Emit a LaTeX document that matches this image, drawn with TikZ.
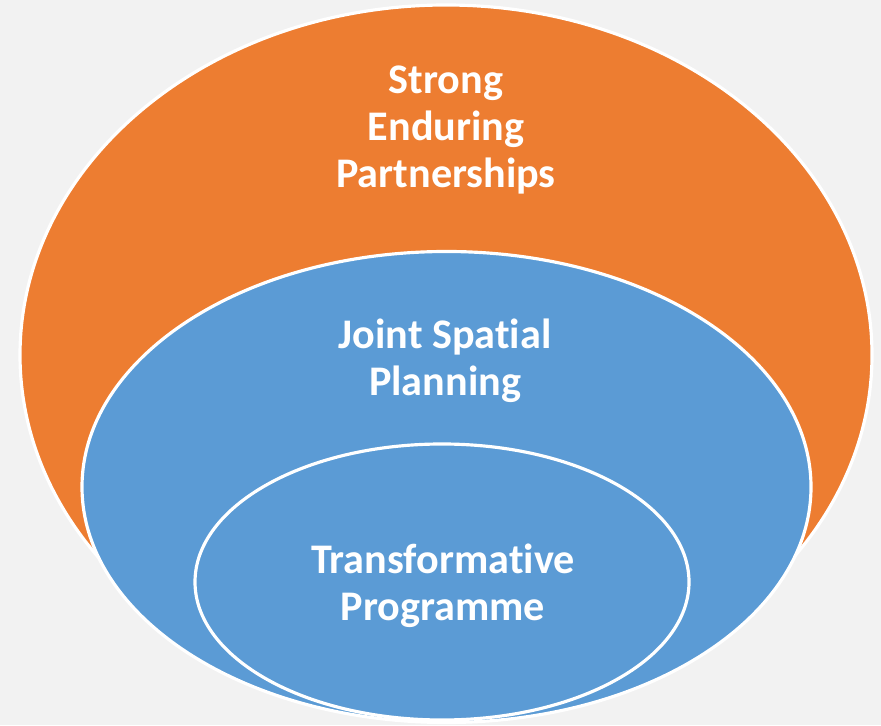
\documentclass[tikz,border=0pt]{standalone}
\usepackage{fontspec}
\setmainfont{Carlito}[Ligatures=NoCommon]
\definecolor{bgGrey}{HTML}{F2F2F2}
\definecolor{ringOrange}{HTML}{ED7D31}
\definecolor{ringBlue}{HTML}{5B9BD5}
\tikzset{
	ring/.style={draw=white,line width=.9pt},
	ringtext/.style={text=white,font=\bfseries\fontsize{12}{13.4}\selectfont,align=center,inner sep=0pt}
}
\begin{document}
\begin{tikzpicture}[line join=round, line cap=round]
			\fill[bgGrey] (0,0) rectangle (8.81,7.25);
			\useasboundingbox (0,0) rectangle (8.81,7.25);
			\filldraw[ring,fill=ringOrange] (4.46,3.70) ellipse (4.26 and 3.50);
			\filldraw[ring,fill=ringBlue] (4.465,2.38) ellipse (3.645 and 2.355);
			\draw[ring] (4.42,1.43) ellipse (2.47 and 1.38);
			\node[ringtext] (strong) at (4.46,5.95) {Strong\\Enduring\\Partnerships};
			\node[ringtext] (joint) at (4.45,3.64) {Joint Spatial\\Planning};
			\node[ringtext] (trans) at (4.43,1.39) {Transformative\\Programme};
		\end{tikzpicture}
\end{document}
